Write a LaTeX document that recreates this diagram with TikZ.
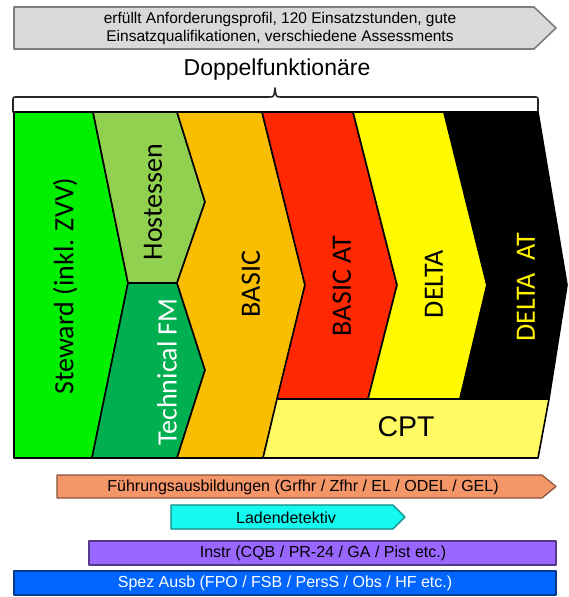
\documentclass[tikz,border=0pt]{standalone}
\usepackage{fontspec}
\setmainfont{Liberation Sans}
\newfontfamily\calfont{Carlito}
\definecolor{grayfill}{RGB}{217,217,217}
\definecolor{grayline}{RGB}{125,125,125}
\definecolor{cSteward}{RGB}{0,240,0}
\definecolor{cHost}{RGB}{146,208,80}
\definecolor{cTech}{RGB}{0,176,80}
\definecolor{cBasic}{RGB}{250,190,0}
\definecolor{cBasicAT}{RGB}{255,40,0}
\definecolor{cDelta}{RGB}{255,250,0}
\definecolor{cCPT}{RGB}{255,250,100}
\definecolor{cFuehr}{RGB}{245,150,105}
\definecolor{cLaden}{RGB}{20,250,240}
\definecolor{cInstr}{RGB}{153,102,255}
\definecolor{cSpez}{RGB}{0,102,255}
\begin{document}
\begin{tikzpicture}[x=1pt,y=-1pt,
  seg/.style={draw=black,line width=1.6pt,line join=round},
  barshape/.style={fill=#1,draw=#1!55!black,line width=1.2pt,line join=round},
  coltext/.style={font=\calfont\fontsize{28}{30}\selectfont,rotate=90,inner sep=0pt},
  bartext/.style={font=\fontsize{16}{18}\selectfont,inner sep=0pt}]
\path[use as bounding box] (0,0) rectangle (569,597);

% top grey arrow
\filldraw[fill=grayfill,draw=grayline,line width=1.6pt,line join=round]
  (14,7) -- (534,7) -- (556,28) -- (534,49) -- (14,49) -- cycle;
\node[bartext,align=center,font=\fontsize{15.5}{18}\selectfont] (req) at (280,28)
  {erfüllt Anforderungsprofil, 120 Einsatzstunden, gute\\Einsatzqualifikationen, verschiedene Assessments};

% brace
\node[inner sep=0pt,font=\fontsize{23}{26}\selectfont] (dopp) at (277,70) {Doppelfunktionäre};
\draw[line width=1.6pt,black!85,line cap=round,line join=round]
  (13,112) -- (13,101) .. controls (13,97) .. (17,97) -- (269,97)
  .. controls (274,97) .. (275,88) .. controls (276,97) .. (281,97)
  -- (534,97) .. controls (538,97) .. (538,101) -- (538,112);

% columns
\filldraw[seg,fill=cSteward] (14,112) -- (93,112) -- (128,283) -- (92,458) -- (14,458) -- cycle;
\filldraw[seg,fill=cHost] (93,112) -- (177,112) -- (205,202) -- (177,283) -- (128,283) -- cycle;
\filldraw[seg,fill=cTech] (128,283) -- (177,283) -- (205,370) -- (177,458) -- (92,458) -- cycle;
\filldraw[seg,fill=cBasic] (177,112) -- (262,112) -- (305,285) -- (263,458) -- (177,458)
  -- (205,370) -- (177,283) -- (205,202) -- cycle;
\filldraw[seg,fill=cBasicAT] (262,112) -- (353,112) -- (397,285) -- (368,399) -- (277,399) -- (305,285) -- cycle;
\filldraw[seg,fill=cDelta] (353,112) -- (444,112) -- (487,285) -- (460,399) -- (368,399) -- (397,285) -- cycle;
\filldraw[seg,fill=black] (444,112) -- (538,112) -- (567,285) -- (549,399) -- (460,399) -- (487,285) -- cycle;
\filldraw[seg,fill=cCPT] (277,399) -- (549,399) -- (538,458) -- (263,458) -- cycle;

\node[coltext] (steward) at (65,286) {Steward (inkl. ZVV)};
\node[coltext] (host) at (153,202) {Hostessen};
\node[coltext,text=white] (tech) at (167,372) {Technical FM};
\node[coltext] (basic) at (251,284) {BASIC};
\node[coltext] (basicat) at (342,286) {BASIC AT};
\node[coltext] (delta) at (434,284) {DELTA};
\node[coltext,text=yellow] (deltaat) at (526,287) {DELTA\ \ AT};
\node[inner sep=0pt,font=\fontsize{28.5}{30}\selectfont] (cpt) at (406,427) {CPT};

% bottom bars
\filldraw[barshape=cFuehr] (57,475) -- (542,475) -- (556,486.5) -- (542,498) -- (57,498) -- cycle;
\node[bartext] (fuehr) at (303,487) {Führungsausbildungen (Grfhr / Zfhr / EL / ODEL / GEL)};
\filldraw[barshape=cLaden] (171,505) -- (393,505) -- (405,517) -- (393,529) -- (171,529) -- cycle;
\node[bartext] (laden) at (286,518) {Ladendetektiv};
\filldraw[barshape=cInstr] (89,541) rectangle (556,565);
\node[bartext] (instr) at (323,553) {Instr (CQB / PR-24 / GA / Pist etc.)};
\filldraw[barshape=cSpez] (14,571) rectangle (556,595);
\node[bartext,text=white] (spez) at (285,583) {Spez Ausb (FPO / FSB / PersS / Obs / HF etc.)};
\end{tikzpicture}
\end{document}
